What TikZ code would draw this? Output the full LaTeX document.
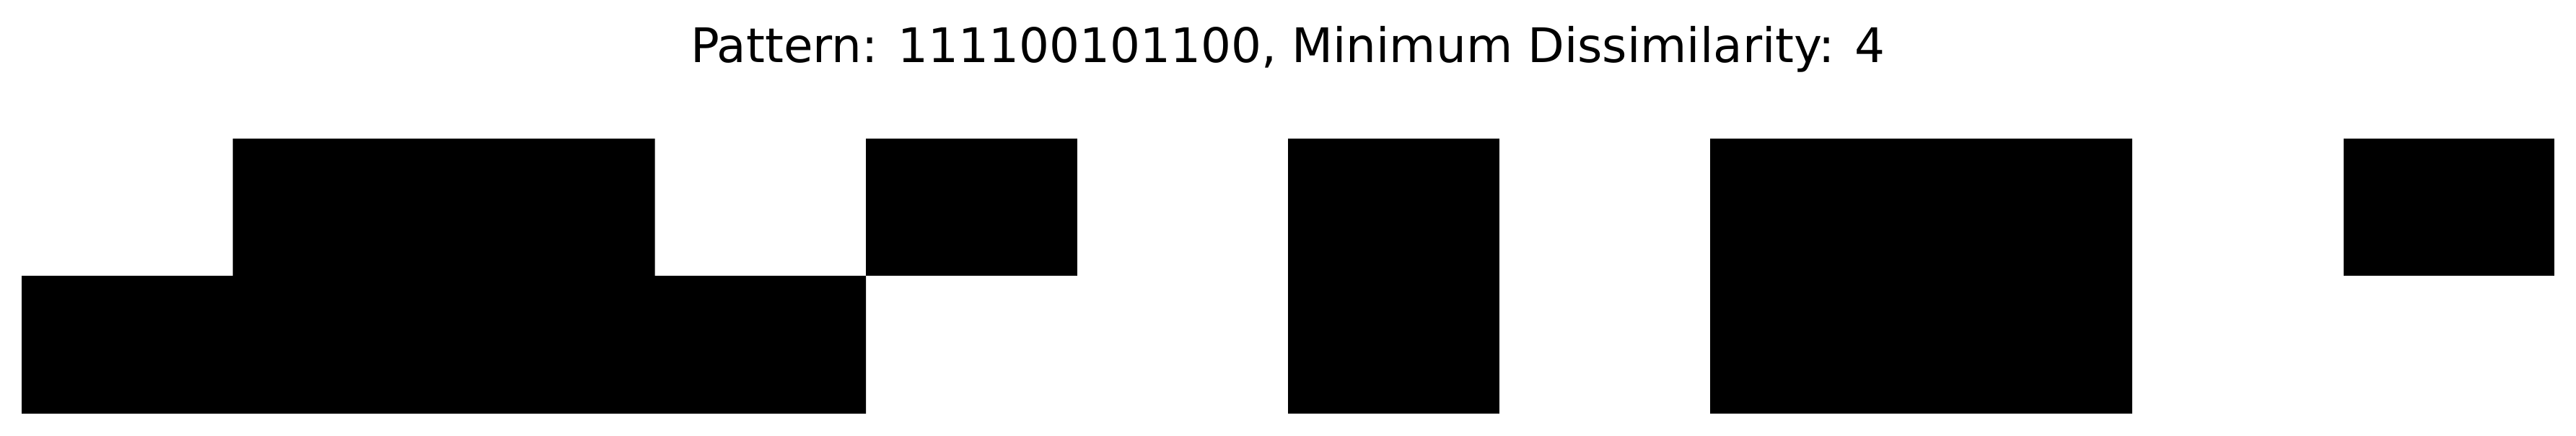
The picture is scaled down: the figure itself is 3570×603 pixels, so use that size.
\documentclass[tikz,border=0pt]{standalone}
\usepackage{fontspec}
\setmainfont{DejaVu Sans}
\begin{document}
\begin{tikzpicture}[x=0.2pt,y=-0.2pt,
  cell/.style={fill=black,draw=none},
  titletext/.style={font=\fontsize{13.2pt}{16pt}\selectfont,anchor=base,inner sep=0pt}]
\useasboundingbox[fill=white] (0,0) rectangle (3570,603);
\node[titletext] (title) at (1785,86) {Pattern: 111100101100, Minimum Dissimilarity: 4};
% block of columns 0-3
\fill[cell] (30,382) -- (322.5,382) -- (322.5,192) -- (907.5,192) -- (907.5,382) -- (1200,382) -- (1200,573) -- (30,573) -- cycle;
% column 4 (top)
\fill[cell] (1200,192) rectangle (1492.5,382);
% column 6 (both)
\fill[cell] (1785,192) rectangle (2077.5,573);
% columns 8-9 (both)
\fill[cell] (2370,192) rectangle (2955,573);
% column 11 (top)
\fill[cell] (3247.5,192) rectangle (3540,382);
\end{tikzpicture}
\end{document}
